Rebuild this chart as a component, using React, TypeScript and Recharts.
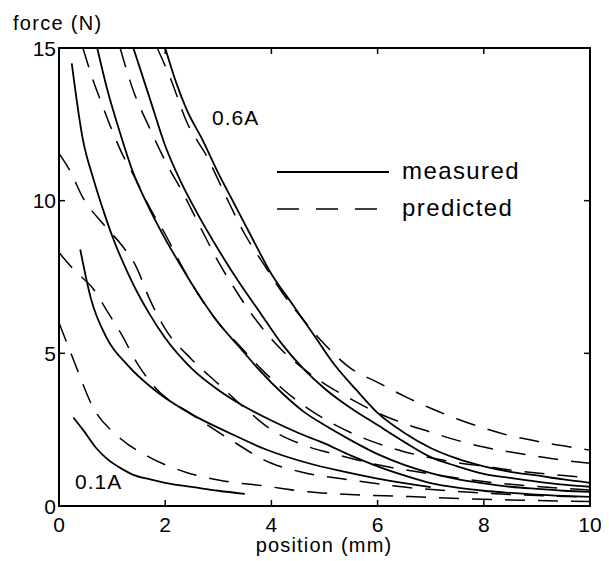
import React from 'react';
import { LineChart, Line, XAxis, YAxis } from 'recharts';

// x ticks / y ticks
const xTicks = [0, 2, 4, 6, 8, 10];
const yTicks = [0, 5, 10, 15];

// measured curves (solid)
const m06X = [2.0, 2.2, 2.4, 2.7, 3.0, 3.3, 3.6, 4.0, 4.4, 4.8, 5.2, 5.6, 6.0, 6.5, 7.0, 7.5, 8.0, 8.5, 9.0, 9.5, 10];
const m06Y = [15, 13.9, 13.0, 12.0, 10.9, 9.9, 8.9, 7.6, 6.6, 5.6, 4.6, 3.8, 3.05, 2.4, 1.9, 1.55, 1.3, 1.12, 1.0, 0.87, 0.76];
const m05X = [1.4, 1.7, 2.0, 2.3, 2.6, 3.0, 3.4, 3.8, 4.2, 4.6, 5.0, 5.5, 6.0, 6.5, 7.0, 7.5, 8.0, 8.5, 9.0, 9.5, 10];
const m05Y = [15, 13.4, 11.8, 10.6, 9.6, 8.4, 7.3, 6.3, 5.3, 4.5, 3.85, 3.2, 2.65, 2.1, 1.6, 1.3, 1.05, 0.92, 0.8, 0.7, 0.63];
const m04X = [0.72, 0.9, 1.1, 1.4, 1.7, 2.0, 2.3, 2.6, 3.0, 3.4, 3.8, 4.2, 4.6, 5.0, 5.5, 6.0, 6.5, 7.0, 7.5, 8.0, 8.5, 9.0, 9.5, 10];
const m04Y = [15, 13.7, 12.5, 10.9, 9.75, 8.75, 7.85, 7.0, 6.0, 5.2, 4.4, 3.7, 3.1, 2.65, 2.15, 1.7, 1.35, 1.08, 0.88, 0.74, 0.63, 0.56, 0.5, 0.46];
const m03X = [0.24, 0.45, 0.65, 0.85, 1.0, 1.2, 1.4, 1.7, 2.0, 2.5, 3.0, 3.5, 4.0, 4.5, 5.0, 5.5, 6.0, 6.5, 7.0, 7.5, 8.0, 8.5, 9.0, 9.5, 10];
const m03Y = [14.5, 12.0, 10.7, 9.6, 8.85, 8.0, 7.25, 6.3, 5.5, 4.5, 3.8, 3.25, 2.8, 2.4, 2.05, 1.65, 1.3, 1.0, 0.75, 0.6, 0.5, 0.43, 0.37, 0.33, 0.3];
const m02X = [0.4, 0.6, 0.9, 1.3, 1.8, 2.5, 3.2, 3.9, 4.7, 5.3, 6.0, 6.5, 7.0];
const m02Y = [8.4, 6.8, 5.5, 4.6, 3.8, 3.0, 2.4, 1.85, 1.4, 1.15, 0.9, 0.75, 0.62];
const m01X = [0.27, 0.45, 0.7, 0.9, 1.2, 1.4, 1.7, 2.0, 2.6, 3.0, 3.5];
const m01Y = [2.9, 2.5, 1.9, 1.55, 1.2, 1.02, 0.88, 0.76, 0.6, 0.5, 0.4];

// predicted curves (dashed)
const p06X = [1.85, 2.1, 2.4, 2.8, 3.1, 3.5, 3.9, 4.2, 4.6, 5.0, 5.5, 6.0, 6.5, 7.0, 7.5, 8.0, 8.5, 9.0, 9.5, 10];
const p06Y = [15, 14.0, 12.6, 11.4, 10.3, 8.9, 7.8, 7.0, 6.1, 5.3, 4.5, 4.05, 3.6, 3.2, 2.85, 2.55, 2.3, 2.12, 1.97, 1.83];
const p05X = [1.15, 1.4, 1.7, 2.0, 2.35, 2.7, 3.0, 3.35, 3.75, 4.2, 4.6, 5.0, 5.5, 6.0, 6.5, 7.0, 7.5, 8.0, 8.5, 9.0, 9.5, 10];
const p05Y = [15, 13.6, 12.4, 11.3, 10.2, 9.0, 8.0, 7.0, 6.0, 5.1, 4.5, 4.0, 3.5, 3.05, 2.7, 2.42, 2.15, 1.93, 1.77, 1.63, 1.5, 1.4];
const p04X = [0.45, 0.65, 0.8, 1.0, 1.2, 1.4, 1.7, 2.0, 2.3, 2.6, 3.0, 3.4, 3.8, 4.2, 4.6, 5.0, 5.5, 6.0, 6.5, 7.0, 7.5, 8.0, 8.5, 9.0, 9.5, 10];
const p04Y = [15, 13.9, 13.2, 12.3, 11.5, 10.85, 9.8, 8.9, 7.9, 7.0, 6.0, 5.25, 4.5, 3.85, 3.3, 2.85, 2.4, 2.05, 1.78, 1.58, 1.42, 1.3, 1.18, 1.08, 1.0, 0.92];
const p03X = [0, 0.2, 0.45, 0.85, 1.2, 1.45, 1.7, 2.0, 2.5, 3.0, 3.5, 4.0, 4.6, 5.3, 6.0, 7.0, 8.0, 9.0, 10];
const p03Y = [11.55, 11.0, 10.1, 9.2, 8.5, 7.85, 6.8, 5.8, 4.8, 4.0, 3.2, 2.5, 2.0, 1.65, 1.35, 1.05, 0.8, 0.64, 0.52];
const p02X = [0, 0.3, 0.65, 0.9, 1.15, 1.5, 1.8, 2.5, 3.2, 4.0, 4.6, 5.5, 6.5, 7.5, 8.5, 10];
const p02Y = [8.3, 7.7, 7.1, 6.4, 5.7, 4.6, 3.9, 3.0, 2.2, 1.4, 1.1, 0.85, 0.62, 0.48, 0.38, 0.29];
const p01X = [0, 0.27, 0.65, 1.1, 1.7, 2.4, 3.0, 3.9, 4.5, 5.2, 6.6, 8.0, 10];
const p01Y = [6.0, 4.8, 3.2, 2.3, 1.6, 1.1, 0.85, 0.65, 0.5, 0.4, 0.31, 0.22, 0.15];

const curve = (xs: number[], ys: number[]) => xs.map((x, i) => ({ x, y: ys[i] }));

const measured = [
  { id: 'm06', data: curve(m06X, m06Y) },
  { id: 'm05', data: curve(m05X, m05Y) },
  { id: 'm04', data: curve(m04X, m04Y) },
  { id: 'm03', data: curve(m03X, m03Y) },
  { id: 'm02', data: curve(m02X, m02Y) },
  { id: 'm01', data: curve(m01X, m01Y) },
];
const predicted = [
  { id: 'p06', data: curve(p06X, p06Y) },
  { id: 'p05', data: curve(p05X, p05Y) },
  { id: 'p04', data: curve(p04X, p04Y) },
  { id: 'p03', data: curve(p03X, p03Y) },
  { id: 'p02', data: curve(p02X, p02Y) },
  { id: 'p01', data: curve(p01X, p01Y) },
];

const FONT = '"Liberation Sans", Arial, Helvetica, sans-serif';
const TICK = 6;

// chart layout
const W = 601;
const H = 545;
const M = { top: 40, right: 19, bottom: 0, left: 0 };
const X_AXIS_H = 47;
const Y_AXIS_W = 51;
const PL = M.left + Y_AXIS_W;
const PR = W - M.right;
const PT = M.top;
const PB = H - M.bottom - X_AXIS_H;
const XMAX = 10;
const YMAX = 15;
const fx = (v: number) => PL + (v / XMAX) * (PR - PL);
const fy = (v: number) => PB - (v / YMAX) * (PB - PT);

const BottomTick = (props: any) => {
  const { x, y, payload } = props;
  return (
    <g>
      <line x1={x} x2={x} y1={y} y2={y - TICK} stroke="#000" strokeWidth={1.5} />
      <text x={x} y={y + 26} textAnchor="middle" fontFamily={FONT} fontSize={21} fill="#000">
        {payload.value}
      </text>
    </g>
  );
};
const LeftTick = (props: any) => {
  const { x, y, payload } = props;
  return (
    <g>
      <line x1={x} x2={x + TICK} y1={y} y2={y} stroke="#000" strokeWidth={1.5} />
      <text x={x - 3} y={y} dy="0.36em" textAnchor="end" fontFamily={FONT} fontSize={21} fill="#000">
        {payload.value}
      </text>
    </g>
  );
};

const axisLine = { stroke: '#000', strokeWidth: 2 };

export default function App() {
  return (
    <div style={{ position: 'relative', width: W, height: 553 }}>
      <LineChart width={W} height={H} margin={M}>
        <XAxis xAxisId="b" dataKey="x" type="number" domain={[0, XMAX]} ticks={xTicks} orientation="bottom"
          height={X_AXIS_H} tickSize={0} tickMargin={0} axisLine={axisLine} tickLine={false} tick={<BottomTick />} interval={0} />
        <YAxis yAxisId="l" type="number" domain={[0, YMAX]} ticks={yTicks} orientation="left"
          width={Y_AXIS_W} tickSize={0} tickMargin={0} axisLine={axisLine} tickLine={false} tick={<LeftTick />} interval={0} />
        {measured.map((s) => (
          <Line key={s.id} data={s.data} dataKey="y" xAxisId="b" yAxisId="l" type="monotone"
            stroke="#000" strokeWidth={1.8} dot={false} isAnimationActive={false} />
        ))}
        {predicted.map((s) => (
          <Line key={s.id} data={s.data} dataKey="y" xAxisId="b" yAxisId="l" type="monotone"
            stroke="#000" strokeWidth={1.5} strokeDasharray="20 13" dot={false} isAnimationActive={false} />
        ))}
      </LineChart>
      <div style={{ position: 'absolute', left: 0, top: 0, width: W, height: 553, pointerEvents: 'none' }}>
        <svg width={W} height={553} style={{ display: 'block' }}>
          <rect x={PL} y={PT} width={PR - PL} height={PB - PT} fill="none" stroke="#000" strokeWidth={2} />
          {xTicks.map((t) => (
            <line key={'tx' + t} x1={fx(t)} x2={fx(t)} y1={PT} y2={PT + TICK} stroke="#000" strokeWidth={1.5} />
          ))}
          {yTicks.map((t) => (
            <line key={'ty' + t} x1={PR} x2={PR - TICK} y1={fy(t)} y2={fy(t)} stroke="#000" strokeWidth={1.5} />
          ))}
          <g fontFamily={FONT} fill="#000" fontSize={20}>
            <text x={5} y={22} letterSpacing={1.3}>force (N)</text>
            <text x={316} y={544} textAnchor="middle" letterSpacing={1.2}>position (mm)</text>
            <text x={204} y={117} fontSize={21} letterSpacing={1}>0.6A</text>
            <text x={67} y={481} fontSize={21} letterSpacing={1}>0.1A</text>
            <line x1={269} x2={381} y1={164} y2={164} stroke="#000" strokeWidth={2} />
            <text x={394} y={171} fontSize={24} letterSpacing={1.4}>measured</text>
            <line x1={269} x2={371} y1={201} y2={201} stroke="#000" strokeWidth={1.5} strokeDasharray="22 17" />
            <text x={394} y={208} fontSize={24} letterSpacing={1.4}>predicted</text>
          </g>
        </svg>
      </div>
    </div>
  );
}
